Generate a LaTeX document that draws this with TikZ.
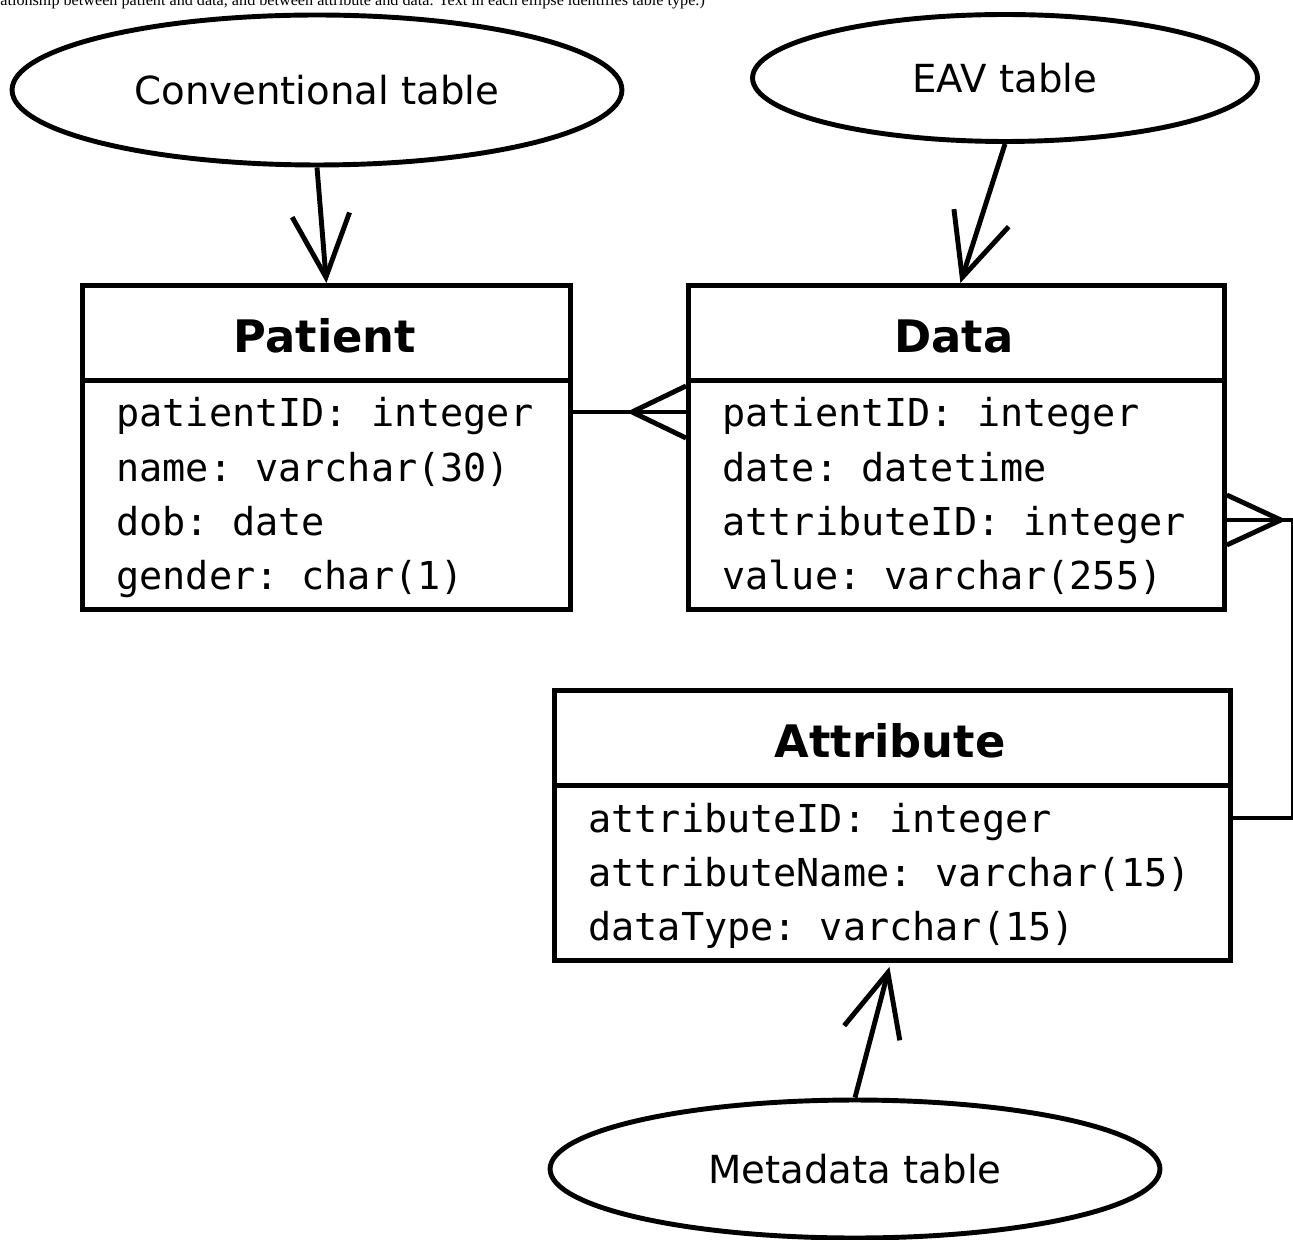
\documentclass[tikz,border=0pt]{standalone}
\usepackage{fontspec}
\setmainfont{Liberation Serif}
\setsansfont{DejaVu Sans}
\setmonofont{DejaVu Sans Mono}
\usetikzlibrary{shapes.geometric,arrows.meta,calc}
\begin{document}
\begin{tikzpicture}[x=0.02cm,y=-0.02cm,
  thick line/.style={line width=2.8pt},
  tblhead/.style={draw,line width=2.8pt,rectangle,inner sep=0pt,anchor=north west},
  tblbody/.style={draw,line width=2.8pt,rectangle,inner sep=0pt,anchor=north west},
  tbltitle/.style={anchor=base,inner sep=0pt,font=\sffamily\bfseries\fontsize{25.5}{30}\selectfont},
  rowtxt/.style={anchor=base west,inner sep=0pt,font=\ttfamily\fontsize{21.9}{26}\selectfont},
  kind/.style={draw,line width=2.8pt,ellipse,inner sep=0pt,
     font=\sffamily\fontsize{22}{26}\selectfont},
  arr/.style={line width=2.8pt,-{Straight Barb[length=1.25cm,width=1.15cm,line width=2.8pt]}},
  foot/.style={line width=2.8pt},
]
\useasboundingbox (0,0) rectangle (1293,1239);
\fill[white] (0,0) rectangle (1293,1239);

% caption, cut at the top edge as in the reference
\node[anchor=base west,inner sep=0pt,font=\rmfamily\fontsize{9.2}{10}\selectfont] (cap) at (0,6)
  {ationship between patient and data, and between attribute and data. Text in each ellipse identifies table type.)};

% ellipses
\node[kind,minimum width=12.2cm,minimum height=3cm] (conv) at (317,90) {Conventional table};
\node[kind,minimum width=10.1cm,minimum height=2.54cm] (eav) at (1005,78) {EAV table};
\node[kind,minimum width=12.2cm,minimum height=2.76cm] (meta) at (855,1169) {Metadata table};

% Patient table
\node[tblhead,minimum width=9.76cm,minimum height=1.9cm] (phead) at (80,283) {};
\node[tblbody,minimum width=9.76cm,minimum height=4.58cm] (pbody) at (80,378) {};
\node[tbltitle] (ptitle) at (325,353) {Patient};
\node[rowtxt] (pr1) at (116,427) {patientID: integer};
\node[rowtxt] (pr2) at (116,481) {name: varchar(30)};
\node[rowtxt] (pr3) at (116,535) {dob: date};
\node[rowtxt] (pr4) at (116,589) {gender: char(1)};

% Data table
\node[tblhead,minimum width=10.72cm,minimum height=1.9cm] (dhead) at (686,283) {};
\node[tblbody,minimum width=10.72cm,minimum height=4.58cm] (dbody) at (686,378) {};
\node[tbltitle] (dtitle) at (954,353) {Data};
\node[rowtxt] (dr1) at (722,427) {patientID: integer};
\node[rowtxt] (dr2) at (722,481) {date: datetime};
\node[rowtxt] (dr3) at (722,535) {attributeID: integer};
\node[rowtxt] (dr4) at (722,589) {value: varchar(255)};

% Attribute table
\node[tblhead,minimum width=13.52cm,minimum height=1.9cm] (ahead) at (552,688) {};
\node[tblbody,minimum width=13.52cm,minimum height=3.5cm] (abody) at (552,783) {};
\node[tbltitle] (atitle) at (890,757) {Attribute};
\node[rowtxt] (ar1) at (588,832) {attributeID: integer};
\node[rowtxt] (ar2) at (588,886) {attributeName: varchar(15)};
\node[rowtxt] (ar3) at (588,940) {dataType: varchar(15)};

% table-type arrows
\draw[arr] (conv.south) -- (phead.north);
\draw[arr] (eav.south) -- ($(dhead.north)+(4,0)$);
\draw[arr] (meta.north) -- ($(abody.south)+(-3,4)$);

% Patient -- Data (many at Data)
\coordinate (pd1) at ($(pr1.base)+(0,-15)$);
\draw[thick line] (pd1 -| pbody.east) -- (pd1 -| dbody.west);
\draw[foot] ($(pd1 -| dbody.west)+(-54,0)$) -- ($(pd1 -| dbody.west)+(0,-26)$);
\draw[foot] ($(pd1 -| dbody.west)+(-54,0)$) -- ($(pd1 -| dbody.west)+(0,26)$);

% Data -- Attribute (many at Data)
\coordinate (da1) at ($(dr3.base)+(0,-15)$);
\coordinate (da2) at ($(ar1.base)+(0,-14)$);
\draw[thick line] (da1 -| dbody.east) -- ++(67,0) |- (da2 -| abody.east);
\draw[foot] ($(da1 -| dbody.east)+(54,0)$) -- ($(da1 -| dbody.east)+(0,-25)$);
\draw[foot] ($(da1 -| dbody.east)+(54,0)$) -- ($(da1 -| dbody.east)+(0,25)$);
\end{tikzpicture}
\end{document}
